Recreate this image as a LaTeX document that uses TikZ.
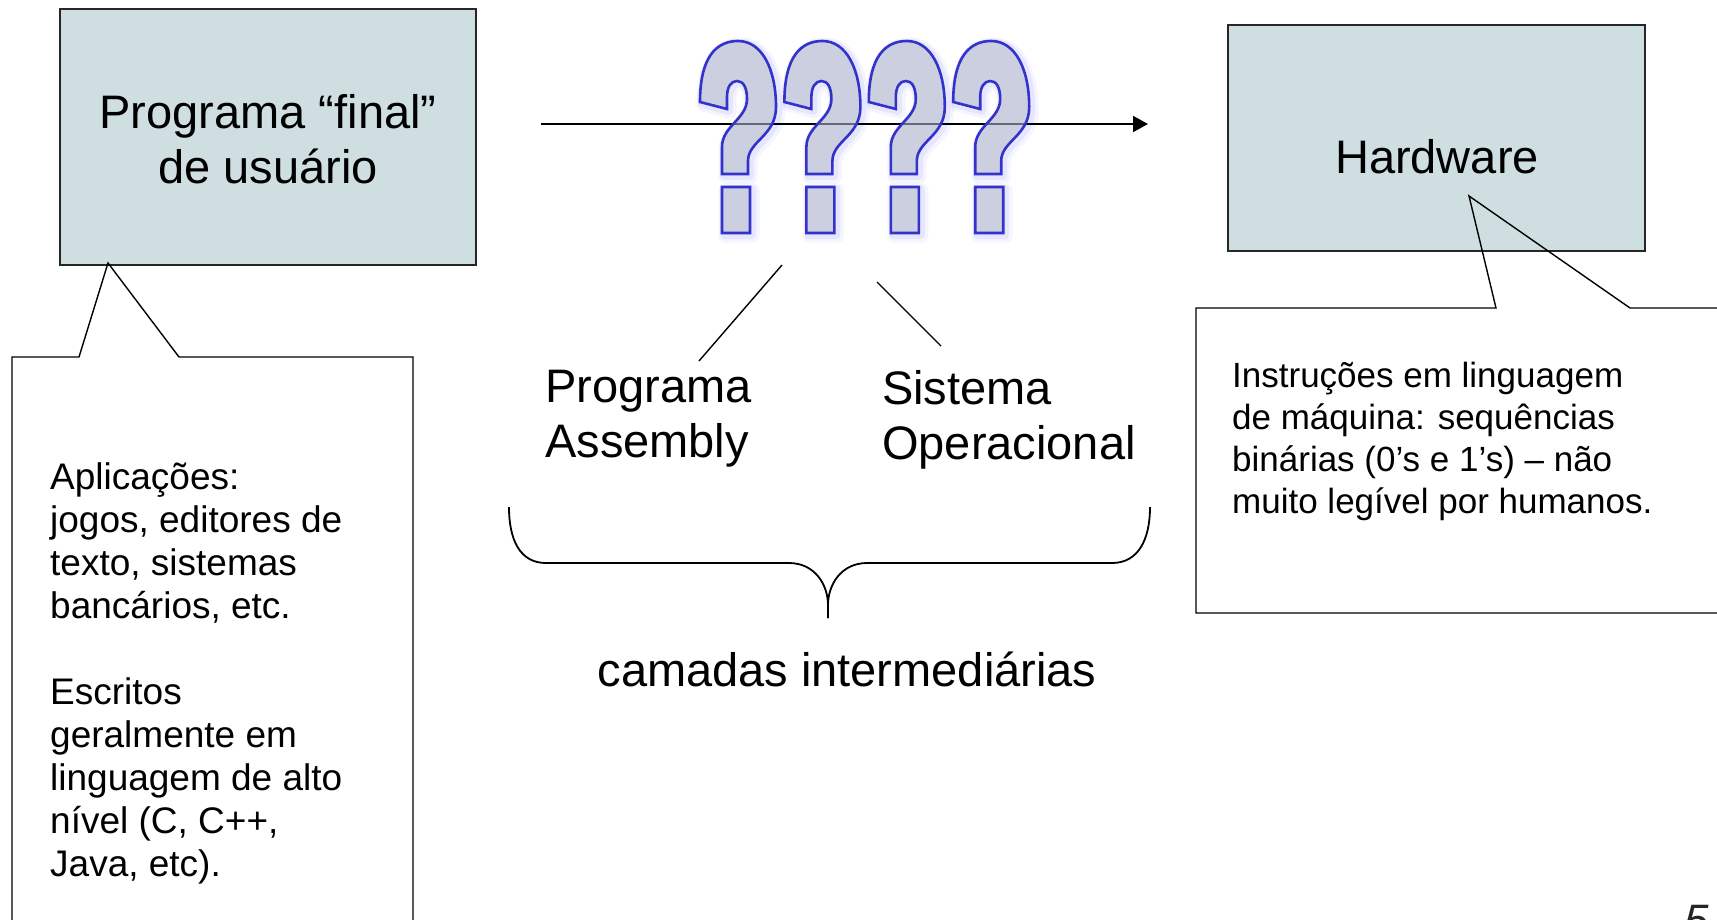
\documentclass[tikz,border=0pt]{standalone}
\usepackage{fontspec}
\setmainfont{Liberation Sans}
\usetikzlibrary{arrows.meta}
\definecolor{boxfill}{RGB}{206,222,225}
\definecolor{qblue}{RGB}{51,51,204}
\definecolor{qfill}{RGB}{170,175,203}
\definecolor{qglow}{RGB}{170,170,255}
\newcommand\fbig{\fontsize{47}{55}\selectfont}
\newcommand\fmid{\fontsize{37}{43}\selectfont}
\begin{document}
\begin{tikzpicture}[x=1pt,y=-1pt,
  boxstyle/.style={draw=black!85, line width=1.5pt, fill=boxfill, inner sep=0pt},
  outline/.style={draw=black, line width=1.4pt, line join=miter},
  thinline/.style={draw=black, line width=1.4pt},
  bigtxt/.style={inner sep=0pt, font=\fbig, align=center},
  midtxt/.style={inner sep=0pt, font=\fmid, align=left},
  qshape/.style={insert path={(0,61) .. controls (0,15) and (17,0) .. (38,0)
     .. controls (62,0) and (76,28) .. (76,66)
     .. controls (76,95) and (48,100) .. (48,120) -- (48,133) -- (22,133) -- (22,106)
     .. controls (22,85) and (47,78) .. (47,58)
     .. controls (47,46) and (43,40) .. (37,40)
     .. controls (31,40) and (27,46) .. (27,56) -- (27,68) -- cycle
     (22,146) rectangle (50,192)}}
]
\useasboundingbox (0,0) rectangle (1717,919);
\clip (0,0) rectangle (1717,919);

% left box
\node[boxstyle, minimum width=416pt, minimum height=256pt] (user) at (268,137) {};
\node[bigtxt] (usertxt) at (268,139) {Programa “final”\\de usuário};

% hardware box
\node[boxstyle, minimum width=417pt, minimum height=226pt] (hw) at (1436.5,138) {};
\node[inner sep=0pt, font=\fbig, anchor=base] (hwtxt) at (1437,173) {Hardware};

% question mark glow
\foreach \i in {0,1,2,3} {
  \begin{scope}[shift={(700+84.4*\i,41)}]
    \path[shift={(3,3)}, draw=qglow, line width=13pt, opacity=.12, line join=round, qshape];
    \path[shift={(2,2)}, draw=qglow, line width=8pt, opacity=.2, line join=round, qshape];
    \path[fill=white, qshape];
  \end{scope}
}

% arrow
\coordinate (arrS) at (541,124);
\coordinate (arrE) at (1148,124);
\draw[line width=2pt, -{Triangle[length=15pt,width=16pt]}] (arrS) -- (arrE);

% question marks
\foreach \i in {0,1,2,3} {
  \begin{scope}[shift={(700+84.4*\i,41)}]
    \path[fill=qfill, fill opacity=.6, draw=qblue, line width=2.6pt, line join=miter, qshape];
  \end{scope}
}

% middle labels
\node[midtxt, font=\fontsize{47}{55}\selectfont, anchor=north west] (asm) at (545,370) {Programa\\Assembly};
\node[midtxt, font=\fontsize{47}{55}\selectfont, anchor=north west] (so) at (882,370) {Sistema\\Operacional};
\coordinate (l1a) at (782,265);
\coordinate (l1b) at (699,361);
\coordinate (l2a) at (877,282);
\coordinate (l2b) at (941,346);
\draw[thinline] (l1a) -- (l1b);
\draw[thinline] (l2a) -- (l2b);

% brace
\coordinate (brL) at (509,507);
\coordinate (brR) at (1150,507);
\coordinate (brT) at (828,618);
\draw[thinline, line width=1.8pt]
  (brL) .. controls (509,540) and (520,563) .. (546,563) -- (789,563)
  .. controls (815,563) and (828,585) .. (828,605) -- (brT);
\draw[thinline, line width=1.8pt]
  (brT) -- (828,605) .. controls (828,585) and (841,563) .. (867,563) -- (1112,563)
  .. controls (1138,563) and (1150,540) .. (brR);
\node[inner sep=0pt, font=\fbig, anchor=base] (layers) at (847,686) {camadas intermediárias};

% left callout
\coordinate (cLtip) at (108,263);
\draw[outline] (12,357) -- (79,357) -- (cLtip) -- (179,357) -- (413,357) -- (413,940) -- (12,940) -- cycle;
\node[midtxt, anchor=north west] (apps) at (50,462) {Aplicações:\\jogos, editores de\\texto, sistemas\\bancários, etc.\\ \\Escritos\\geralmente em\\linguagem de alto\\nível (C, C++,\\Java, etc).};

% right callout
\coordinate (cRtip) at (1469,196);
\draw[outline] (1196,308) -- (1496,308) -- (cRtip) -- (1630,308) -- (1740,308) -- (1740,613) -- (1196,613) -- cycle;
\node[midtxt, font=\fontsize{35}{42}\selectfont, anchor=north west] (instr) at (1232,362) {Instruções em linguagem\\de máquina: sequências\\binárias (0’s e 1’s) – não\\muito legível por humanos.};

% page number
\node[inner sep=0pt, anchor=north west, font=\fontsize{44}{50}\selectfont\itshape, text=black!85] (pnum) at (1684,905) {5};
\end{tikzpicture}
\end{document}
